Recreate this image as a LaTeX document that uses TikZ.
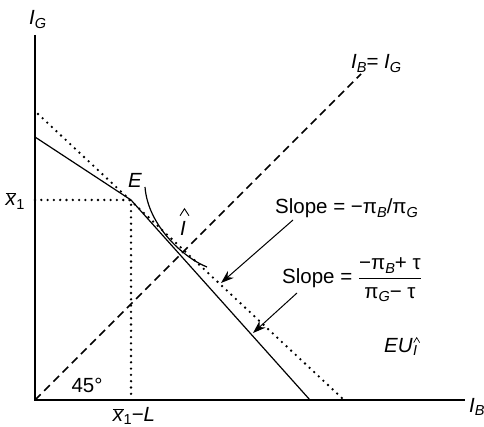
\documentclass[tikz,border=0pt]{standalone}
\usepackage{fontspec}
\setmainfont{Liberation Sans}
\usetikzlibrary{arrows.meta}
\newcommand\lo[1]{\raisebox{-0.35ex}{\fontsize{14.5}{14.5}\selectfont\textit{#1}}}
\newcommand\loup[1]{\raisebox{-0.35ex}{\fontsize{14.5}{14.5}\selectfont #1}}
\newcommand\xbar{$\overline{\mbox{\textit{x}}}$}
\begin{document}
\begin{tikzpicture}[x=1pt,y=-1pt, font=\fontsize{20.5}{24}\selectfont,
  axis/.style={line width=2pt},
  budget/.style={line width=1.2pt},
  dots/.style={line width=2.6pt, line cap=round, dash pattern=on 0pt off 6.3pt},
  dash45/.style={line width=1.6pt, dash pattern=on 8pt off 5pt},
  pointer/.style={line width=1pt, -{Stealth[length=13pt,width=9pt]}},
  hatmark/.style={line width=0.9pt, line join=miter},
  lbl/.style={inner sep=0pt}]
\useasboundingbox (0,0) rectangle (484,427);
% axes
\coordinate (Ytop) at (35,35);
\coordinate (O) at (35,400);
\coordinate (Xend) at (465,400);
\draw[axis] (Ytop) -- (O) -- (Xend);
% budget lines
\coordinate (A) at (35,137);
\coordinate (E) at (131,200);
\coordinate (B) at (310,400);
\draw[budget] (A) -- (E) -- (B);
\coordinate (D1) at (38,114);
\coordinate (D2) at (344,400);
\draw[dots] (D1) -- (D2);
% guides
\coordinate (Ey) at (35,200);
\coordinate (Ex) at (131,400);
\draw[dots] (Ey) -- (E) -- (Ex);
% 45 degree line
\coordinate (Dtop) at (361,74);
\draw[dash45] (O) -- (Dtop);
% indifference curve
\coordinate (C0) at (145,187);
\coordinate (C3) at (207,267);
\draw[budget] (C0) .. controls (148,226) and (184,258) .. (C3);
% arrows
\coordinate (s1) at (293,220);
\coordinate (t1) at (221,283);
\coordinate (s2) at (297,293);
\coordinate (t2) at (253,333);
\draw[pointer] (s1) -- (t1);
\draw[pointer] (s2) -- (t2);
% labels
\node[lbl, anchor=base west] (lIG) at (29,25) {\textit{I}\lo{G}};
\node[lbl, anchor=base west] (lIB) at (469,412) {\textit{I}\lo{B}};
\node[lbl, anchor=base west] (ldiag) at (351,69) {\textit{I}\lo{B}= \textit{I}\lo{G}};
\node[lbl] (lE) at (135,180) {\textit{E}};
\node[lbl] (lI) at (183,228) {\textit{I}};
\draw[hatmark] (lI.north) ++(-3,-5) -- ++(4.5,-7) -- ++(4.5,7);
\node[lbl, anchor=west] (ls1) at (275,208) {Slope = −π\lo{B}/π\lo{G}};
\node[lbl, anchor=west] (ls2) at (282,280) {Slope = $\displaystyle\frac{\mbox{−π\lo{B}+ τ}}{\mbox{π\lo{G}− τ}}$};
\node[lbl, anchor=base west] (lEU) at (384,352) {\textit{EU}};
\node[lbl, anchor=base west] (lEUs) at (lEU.base east) {\raisebox{-0.35ex}{\fontsize{14.5}{14.5}\selectfont\textit{I}}};
\draw[hatmark, line width=0.7pt] (lEUs.north) ++(-1.5,-3) -- ++(3,-5) -- ++(3,5);
\node[lbl] (l45) at (87,385) {45°};
\node[lbl] (lx1) at (15,201) {\xbar\loup{1}};
\node[lbl] (lxL) at (134,416) {\xbar\loup{1}−\textit{L}};
\end{tikzpicture}
\end{document}
